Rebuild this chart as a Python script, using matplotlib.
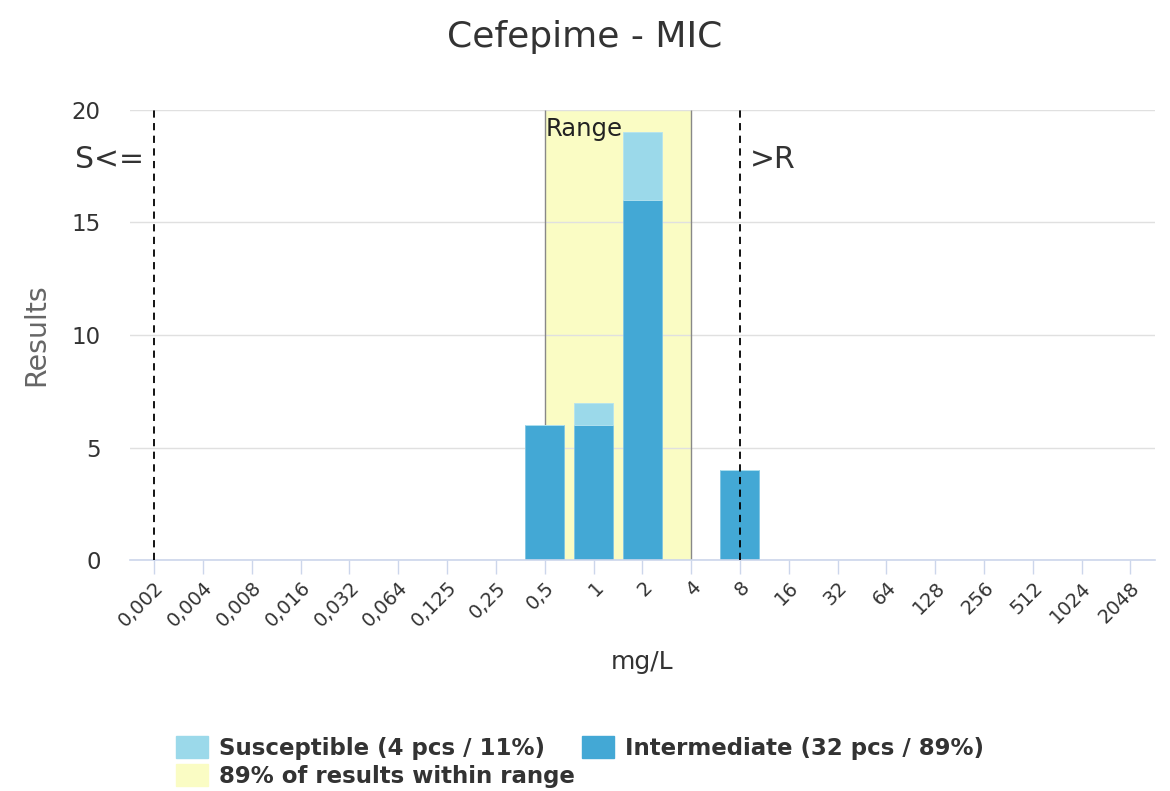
import numpy as np
import matplotlib.pyplot as plt
from matplotlib.patches import Patch

plt.rcParams['font.family'] = ['DejaVu Sans']

# MIC categories (mg/L)
categories = ['0,002', '0,004', '0,008', '0,016', '0,032', '0,064', '0,125', '0,25',
              '0,5', '1', '2', '4', '8', '16', '32', '64', '128', '256', '512', '1024', '2048']
intermediate = [0, 0, 0, 0, 0, 0, 0, 0, 6, 6, 16, 0, 4, 0, 0, 0, 0, 0, 0, 0, 0]
susceptible = [0, 0, 0, 0, 0, 0, 0, 0, 0, 1, 3, 0, 0, 0, 0, 0, 0, 0, 0, 0, 0]
range_lo, range_hi = '0,5', '4'
s_break, r_break = '0,002', '8'

c_sus = '#9bd9ea'
c_int = '#43a8d5'
c_rng = '#fafcc4'

fig = plt.figure(figsize=(11.7, 7.91), dpi=100)
ax = fig.add_axes([0.111, 0.292, 0.876, 0.569])

x = np.arange(len(categories))
i_lo, i_hi = categories.index(range_lo), categories.index(range_hi)
ax.axvspan(i_lo, i_hi, color=c_rng, zorder=0, lw=0)
ax.vlines([i_lo, i_hi], 0, 20, colors='#888888', lw=1, zorder=1)

ax.bar(x, intermediate, width=0.8, color=c_int, edgecolor='#7fc4e3', lw=0.6, zorder=2)
ax.bar(x, susceptible, bottom=intermediate, width=0.8, color=c_sus,
       edgecolor='#b5e3ef', lw=0.6, zorder=2)

i_s, i_r = categories.index(s_break), categories.index(r_break)
ax.vlines([i_s, i_r], 0, 20, colors='black', lw=1.3, linestyles=(0, (4, 3)), zorder=3)
ax.text(i_s - 0.22, 17.8, 'S<=', ha='right', va='center', fontsize=21.5, color='#333333')
ax.text(i_r + 0.2, 17.8, '>R', ha='left', va='center', fontsize=21.5, color='#333333')
ax.text(i_lo + 0.02, 19.7, 'Range', ha='left', va='top', fontsize=17.5, color='#222222')

ax.set_xlim(-0.5, len(categories) - 0.5)
ax.set_ylim(0, 20)
ax.set_yticks([0, 5, 10, 15, 20])
ax.set_xticks(x)
ax.set_xticklabels(categories, rotation=45, ha='right', rotation_mode='anchor',
                   fontsize=14, color='#333333')
ax.tick_params(axis='x', length=10, color='#ccd6eb', width=1, pad=3)
ax.tick_params(axis='y', length=0, labelsize=16.5, labelcolor='#333333', pad=21)
ax.grid(axis='y', color='#e0e0e0', lw=1, zorder=0)
ax.set_axisbelow(True)
for side in ['top', 'right', 'left']:
    ax.spines[side].set_visible(False)
ax.spines['bottom'].set_color('#ccd6eb')
ax.spines['bottom'].set_linewidth(1.2)

ax.set_ylabel('Results', fontsize=20.5, color='#666666', labelpad=15)
ax.set_xlabel('mg/L', fontsize=18, color='#333333', labelpad=14)
fig.suptitle('Cefepime - MIC', fontsize=26, color='#333333', y=0.975)

handles = [Patch(color=c_sus), Patch(color=c_rng), Patch(color=c_int)]
labels = ['Susceptible (4 pcs / 11%)', '89% of results within range',
          'Intermediate (32 pcs / 89%)']
leg = fig.legend(handles, labels, ncol=2, loc='lower left', bbox_to_anchor=(0.133, -0.022),
                 frameon=False, prop={'weight': 'bold', 'size': 16.5},
                 handlelength=1.4, handleheight=1.05, handletextpad=0.48,
                 columnspacing=0.3, labelspacing=0.2)
for t in leg.get_texts():
    t.set_color('#333333')

fig.savefig('out.png', dpi=100)
